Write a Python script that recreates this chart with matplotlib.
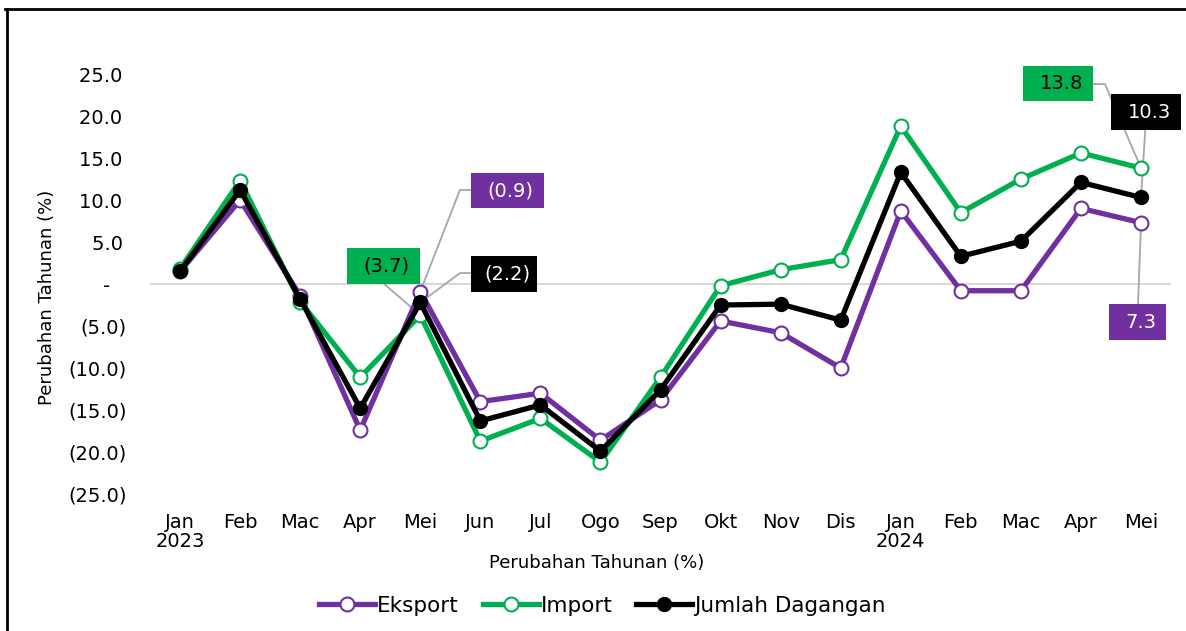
import numpy as np
import matplotlib
matplotlib.use("Agg")
from matplotlib import pyplot as plt
from matplotlib.lines import Line2D
from matplotlib.patches import Rectangle

plt.rcParams['font.family'] = ['DejaVu Sans']

# data
months = ['Jan\n2023', 'Feb', 'Mac', 'Apr', 'Mei', 'Jun', 'Jul', 'Ogo', 'Sep',
          'Okt', 'Nov', 'Dis', 'Jan\n2024', 'Feb', 'Mac', 'Apr', 'Mei']
eksport = [1.5, 10.0, -1.4, -17.4, -0.9, -14.0, -13.0, -18.6, -13.8,
           -4.4, -5.8, -10.0, 8.7, -0.8, -0.8, 9.0, 7.3]
import_ = [1.8, 12.3, -2.1, -11.1, -3.7, -18.7, -16.0, -21.2, -11.1,
           -0.2, 1.7, 2.9, 18.8, 8.5, 12.5, 15.6, 13.8]
jumlah = [1.5, 11.2, -1.8, -14.8, -2.2, -16.3, -14.4, -19.9, -12.6,
          -2.5, -2.4, -4.3, 13.3, 3.3, 5.1, 12.1, 10.3]

PURPLE = '#7030A0'
GREEN = '#00B050'
BLACK = '#000000'
GREY = '#A6A6A6'


def yfmt(v):
    if v == 0:
        return '-'
    if v < 0:
        return '(%.1f)' % abs(v)
    return '%.1f' % v


def tickfmt(v):
    # accounting style: positives leave room for the closing bracket
    if v == 0:
        return '-\u2002 '
    if v < 0:
        return yfmt(v)
    return yfmt(v) + '\u2009'


fig = plt.figure(figsize=(11.86, 6.31), dpi=100)
ax = fig.add_axes([0.1265, 0.2171, 0.8609, 0.6656])
x = np.arange(len(months))

ax.axhline(0, color='#D9D9D9', lw=1.5, zorder=1)

ax.plot(x, eksport, color=PURPLE, lw=3.8, marker='o', ms=10, mfc='white',
        mec=PURPLE, mew=1.5, zorder=3, label='Eksport')
ax.plot(x, import_, color=GREEN, lw=3.8, marker='o', ms=10, mfc='white',
        mec=GREEN, mew=1.5, zorder=3, label='Import')
ax.plot(x, jumlah, color=BLACK, lw=3.8, marker='o', ms=10, mfc=BLACK,
        mec=BLACK, zorder=4, label='Jumlah Dagangan')

ax.set_xlim(-0.5, len(months) - 0.5)
ax.set_ylim(-25, 25)
yt = np.arange(-25, 26, 5)
ax.set_yticks(yt)
ax.set_yticklabels([tickfmt(v) for v in yt], fontsize=14)
ax.set_xticks(x)
ax.set_xticklabels(months, fontsize=14, linespacing=1.0)
ax.tick_params(axis='x', length=0, pad=14)
ax.tick_params(axis='y', length=0, pad=17)
for s in ax.spines.values():
    s.set_visible(False)

ax.set_ylabel('Perubahan Tahunan (%)', fontsize=13)
ax.yaxis.set_label_coords(-0.092, 0.469)
ax.set_xlabel('Perubahan Tahunan (%)', fontsize=13)
ax.xaxis.set_label_coords(0.437, -0.143)


def label(text, box, face, txtcolor, path):
    # box = (x0, x1, y0, y1) in data units, path = leader line points
    xs, ys = zip(*path)
    ax.plot(xs, ys, color=GREY, lw=1.3, zorder=2, clip_on=False)
    x0, x1, y0, y1 = box
    ax.add_patch(Rectangle((x0, y0), x1 - x0, y1 - y0, fc=face, ec='none',
                           zorder=5, clip_on=False))
    ax.text((x0 + x1) / 2 + 0.05, (y0 + y1) / 2, text, fontsize=14,
            color=txtcolor, ha='center', va='center', zorder=6, clip_on=False)


# Mei 2023 labels
label(yfmt(eksport[4]), (4.845, 6.06, 9.05, 13.2), PURPLE, 'white',
      [(4, eksport[4]), (4.66, 11.2), (4.845, 11.2)])
label(yfmt(import_[4]), (2.78, 4.0, 0.0, 4.3), GREEN, BLACK,
      [(3.4, 0.0), (4, import_[4])])
label(yfmt(jumlah[4]), (4.845, 5.94, -0.95, 3.33), BLACK, 'white',
      [(4, jumlah[4]), (4.66, 1.3), (4.845, 1.3)])
# Mei 2024 labels
label('%.1f' % import_[16], (14.04, 15.2, 21.8, 25.95), GREEN, BLACK,
      [(15.2, 23.8), (15.4, 23.8), (16, import_[16])])
label('%.1f' % jumlah[16], (15.5, 16.67, 18.3, 22.6), BLACK, 'white',
      [(16.07, 18.3), (16, jumlah[16])])
label('%.1f' % eksport[16], (15.47, 16.42, -6.67, -2.38), PURPLE, 'white',
      [(15.95, -2.38), (16, eksport[16])])

handles = [
    Line2D([], [], color=PURPLE, lw=3.8, marker='o', ms=10, mfc='white', mec=PURPLE, mew=1.5),
    Line2D([], [], color=GREEN, lw=3.8, marker='o', ms=10, mfc='white', mec=GREEN, mew=1.5),
    Line2D([], [], color=BLACK, lw=3.8, marker='o', ms=10, mfc=BLACK, mec=BLACK),
]
fig.legend(handles, ['Eksport', 'Import', 'Jumlah Dagangan'], loc='center',
           bbox_to_anchor=(0.508, 0.04), ncol=3, frameon=False, fontsize=15.5,
           handlelength=2.6, handletextpad=0.1, columnspacing=1.1)

# outer frame (left and top only visible)
fig.add_artist(Line2D([0.0055, 0.0055], [0.0, 0.986], color='black', lw=2, transform=fig.transFigure))
fig.add_artist(Line2D([0.0045, 1.0], [0.986, 0.986], color='black', lw=2, transform=fig.transFigure))

fig.savefig('out.png', dpi=100)
